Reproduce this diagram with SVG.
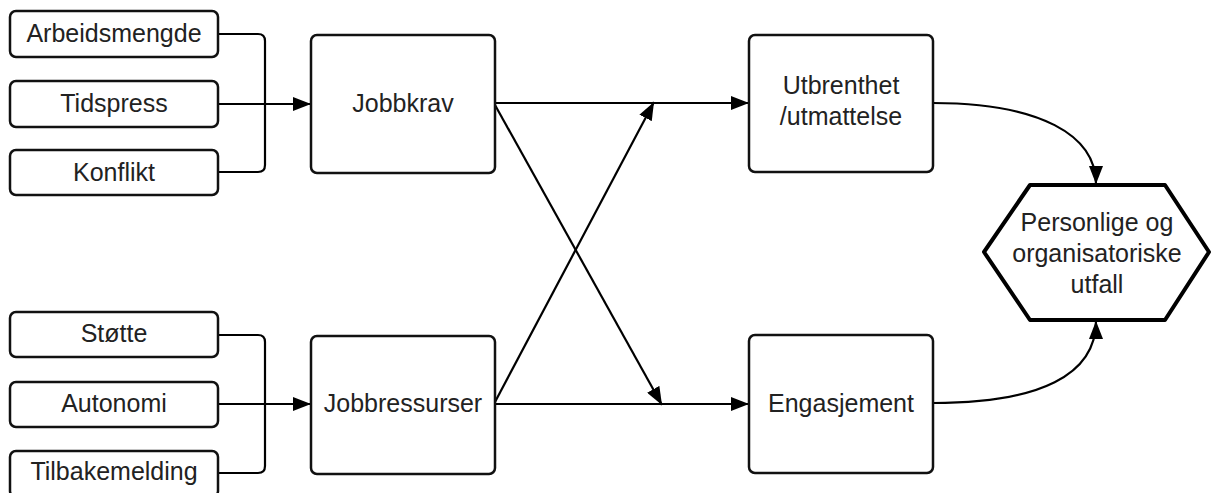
<svg xmlns="http://www.w3.org/2000/svg" width="1213" height="493" viewBox="0 0 1213 493">
<defs>
<style>
.box{fill:#fff;stroke:#111;stroke-width:2.5}
.hex{fill:#fff;stroke:#000;stroke-width:4;stroke-linejoin:round}
.t{font-family:"Liberation Sans",Arial,sans-serif;font-size:25px;fill:#222;text-anchor:middle}
.c{fill:none;stroke:#000;stroke-width:2.2}
</style>
<marker id="ah" markerWidth="20" markerHeight="14" refX="18" refY="7" orient="auto" markerUnits="userSpaceOnUse">
<path d="M0,0 L18,7 L0,14 Z" fill="#000"/>
</marker>
</defs>
<rect width="1213" height="493" fill="#fff"/>
<g id="connectors">
<path class="c" d="M218,34 H258 Q265,34 265,41 V165 Q265,172 258,172 H218"/>
<path class="c" d="M218,104 H311" marker-end="url(#ah)"/>
<path class="c" d="M218,335 H258 Q265,335 265,342 V466 Q265,473 258,473 H218"/>
<path class="c" d="M218,404 H311" marker-end="url(#ah)"/>
<path class="c" d="M495,103 H749" marker-end="url(#ah)"/>
<path class="c" d="M495,404 H749" marker-end="url(#ah)"/>
<path class="c" d="M495,105 L662,405" marker-end="url(#ah)"/>
<path class="c" d="M495,402 L654,102" marker-end="url(#ah)"/>
<path class="c" d="M933,103 C1040,103 1096,135 1096,184" marker-end="url(#ah)"/>
<path class="c" d="M933,403 C1040,403 1096,375 1096,321" marker-end="url(#ah)"/>
</g>
<g id="n-arbeidsmengde"><rect class="box" x="10" y="11" width="208" height="46" rx="6"/><text class="t" x="114" y="42">Arbeidsmengde</text></g>
<g id="n-tidspress"><rect class="box" x="10" y="81" width="208" height="46" rx="6"/><text class="t" x="114" y="112">Tidspress</text></g>
<g id="n-konflikt"><rect class="box" x="10" y="150" width="208" height="45" rx="6"/><text class="t" x="114" y="181">Konflikt</text></g>
<g id="n-stotte"><rect class="box" x="10" y="312" width="208" height="45" rx="6"/><text class="t" x="114" y="342">Støtte</text></g>
<g id="n-autonomi"><rect class="box" x="10" y="382" width="208" height="45" rx="6"/><text class="t" x="114" y="412">Autonomi</text></g>
<g id="n-tilbakemelding"><rect class="box" x="10" y="451" width="208" height="46" rx="6"/><text class="t" x="114" y="480">Tilbakemelding</text></g>
<g id="n-jobbkrav"><rect class="box" x="311" y="35" width="184" height="138" rx="6"/><text class="t" x="403" y="112">Jobbkrav</text></g>
<g id="n-jobbressurser"><rect class="box" x="311" y="336" width="184" height="138" rx="6"/><text class="t" x="403" y="412">Jobbressurser</text></g>
<g id="n-utbrenthet"><rect class="box" x="749" y="35" width="184" height="137" rx="6"/><text class="t" x="841" y="94">Utbrenthet</text><text class="t" x="841" y="125">/utmattelse</text></g>
<g id="n-engasjement"><rect class="box" x="749" y="335" width="184" height="138" rx="6"/><text class="t" x="841" y="412">Engasjement</text></g>
<g id="n-utfall"><path class="hex" d="M1030,185 L1165,185 L1209,252 L1165,320 L1030,320 L984,252 Z"/><text class="t" x="1097" y="231">Personlige og</text><text class="t" x="1097" y="262">organisatoriske</text><text class="t" x="1097" y="293">utfall</text></g>
</svg>
